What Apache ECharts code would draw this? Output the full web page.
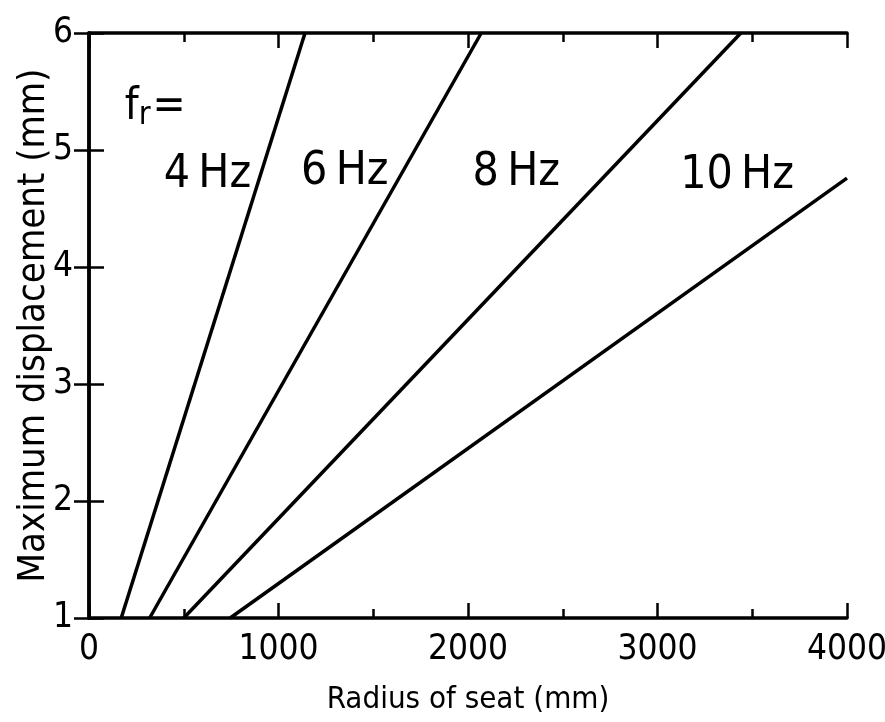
<!DOCTYPE html>
<html>
<head>
<meta charset="utf-8">
<script src="https://cdn.jsdelivr.net/npm/echarts@6/dist/echarts.min.js"></script>
<style>
html,body{margin:0;padding:0;background:#fff;}
#chart{width:885px;height:722px;}
</style>
</head>
<body>
<div id="chart"></div>
<script>
// ---- data ----
const freqNames = ['4 Hz', '6 Hz', '8 Hz', '10 Hz'];
const line4Hz  = [[170, 1], [1140, 6]];
const line6Hz  = [[320, 1], [2070, 6]];
const line8Hz  = [[500, 1], [3440, 6]];
const line10Hz = [[745, 1], [4000, 4.76]];
const xTicks = [0, 1000, 2000, 3000, 4000];
const yTicks = [1, 2, 3, 4, 5, 6];

const FONT = '"DejaVu Sans Condensed", "DejaVu Sans", sans-serif';
const chart = echarts.init(document.getElementById('chart'));

// annotation anchors (data coordinates)
const labelAnchors = [
  {name: 'fr', value: [350, 5.36]},
  {name: freqNames[0], value: [625, 4.79]},
  {name: freqNames[1], value: [1350, 4.81]},
  {name: freqNames[2], value: [2255, 4.80]},
  {name: freqNames[3], value: [3420, 4.78]}
];

const lines = [line4Hz, line6Hz, line8Hz, line10Hz];
const lineSeries = lines.map((d, i) => ({
  name: freqNames[i],
  type: 'line',
  data: d,
  symbol: 'none',
  lineStyle: {color: '#000', width: 3.5},
  silent: true,
  z: 3
}));

const tickStyle = {color: '#000', width: 2.5};
const axisCommon = {
  axisLine: {show: true, lineStyle: {color: '#000', width: 3.5}},
  axisTick: {show: true, inside: true, length: 15, lineStyle: tickStyle},
  splitLine: {show: false}
};

const option = {
  backgroundColor: '#fff',
  animation: false,
  grid: {left: 89, right: 38, top: 33, bottom: 104, outerBoundsMode: 'none', containLabel: false},
  xAxis: [
    Object.assign({
      type: 'value', min: xTicks[0], max: xTicks[xTicks.length - 1], interval: 1000,
      name: 'Radius of seat (mm)', nameLocation: 'middle', nameGap: 66, nameMoveOverlap: false,
      nameTextStyle: {fontFamily: FONT, fontSize: 31, color: '#000'},
      axisLabel: {fontFamily: FONT, fontSize: 35, color: '#000', margin: 14, formatter: v => String(v)},
      minorTick: {show: true, splitNumber: 2, length: 9, lineStyle: tickStyle}
    }, axisCommon),
    Object.assign({
      type: 'value', position: 'top', min: 0, max: 4000, interval: 1000,
      axisLabel: {show: false},
      minorTick: {show: true, splitNumber: 2, length: 9, lineStyle: tickStyle}
    }, axisCommon)
  ],
  yAxis: [
    Object.assign({
      type: 'value', min: yTicks[0], max: yTicks[yTicks.length - 1], interval: 1,
      name: 'Maximum displacement (mm)', nameLocation: 'middle', nameGap: 36, nameMoveOverlap: false,
      nameTextStyle: {fontFamily: FONT, fontSize: 38, color: '#000'},
      axisLabel: {fontFamily: FONT, fontSize: 35, color: '#000', margin: 16, formatter: v => String(v)}
    }, axisCommon),
    Object.assign({
      type: 'value', position: 'right', min: 1, max: 6, interval: 1,
      axisLabel: {show: false}
    }, axisCommon)
  ],
  series: lineSeries.concat([{
    type: 'scatter',
    data: labelAnchors,
    symbolSize: 0,
    silent: true,
    z: 4,
    itemStyle: {opacity: 1},
    label: {
      show: true,
      position: 'inside',
      color: '#000',
      opacity: 1,
      fontFamily: FONT,
      fontSize: 46,
      formatter: p => p.name === 'fr' ? '{f|f}{r|r}{f|=}' : p.name.replace(' ', '\u2009'),
      rich: {
        f: {fontFamily: FONT, fontSize: 44, color: '#000', lineHeight: 48},
        r: {fontFamily: FONT, fontSize: 32, color: '#000', verticalAlign: 'bottom', lineHeight: 30, padding: [10, 2, 0, 0]}
      }
    }
  }])
};
chart.setOption(option);
</script>
</body>
</html>
